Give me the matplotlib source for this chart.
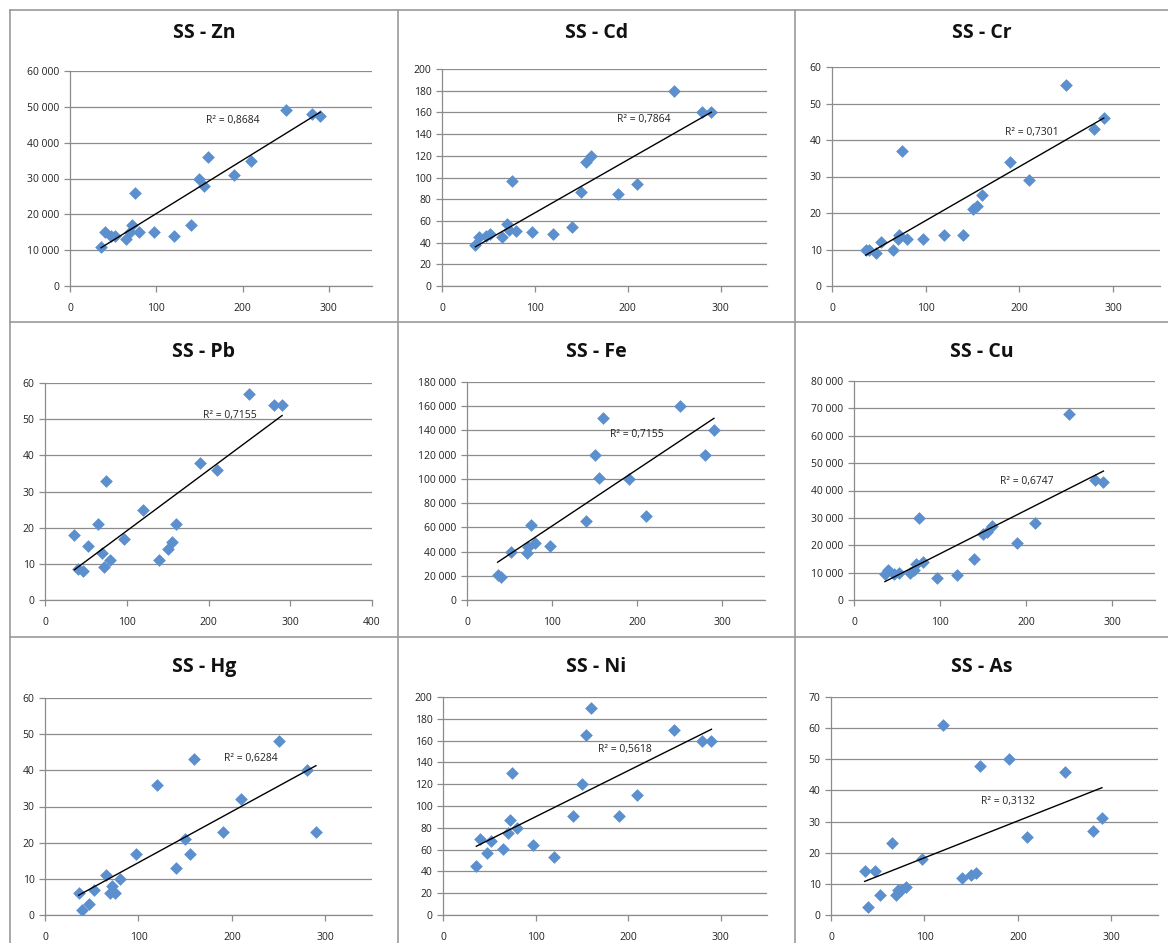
import numpy as np
import matplotlib
matplotlib.use('Agg')
import matplotlib.pyplot as plt
from matplotlib.ticker import FuncFormatter, MultipleLocator
from matplotlib.lines import Line2D

plt.rcParams['font.family'] = ['Open Sans', 'DejaVu Sans']

# SS values (shared x for all panels)
ss = [36, 40, 47, 52, 65, 70, 72, 75, 80, 97, 120, 140, 150, 155, 160, 190, 210, 250, 280, 290]

nan = np.nan
zn = [11000, 15000, 14000, 14000, 13000, 15000, 17000, 26000, 15000, 15000,
      14000, 17000, 30000, 28000, 36000, 31000, 35000, 49000, 48000, 47500]
cd = [38, 45, 46, 48, 45, 57, 52, 97, 51, 50, 48, 54, 87, 114, 120, 85, 94, 180, 160, 160]
cr = [10, 10, 9, 12, 10, 13, 14, 37, 13, 13, 14, 14, 21, 22, 25, 34, 29, 55, 43, 46]
pb = [18, 8.5, 8, 15, 21, 13, 9, 33, 11, 17, 25, 11, 14, 16, 21, 38, 36, 57, 54, 54]
fe = [21000, 19000, nan, 40000, nan, 39000, 44000, 62000, 47000, 45000,
      nan, 65000, 120000, 101000, 150000, 100000, 69000, 160000, 120000, 140000]
cu = [9500, 11000, 9500, 10000, 10000, 11000, 13000, 30000, 14000, 8000,
      9000, 15000, 24000, 25000, 27000, 21000, 28000, 68000, 44000, 43000]
hg = [6, 1.5, 3, 7, 11, 6, 8, 6, 10, 17, 36, 13, 21, 17, 43, 23, 32, 48, 40, 23]
ni = [45, 70, 57, 68, 61, 75, 87, 130, 80, 64, 53, 91, 120, 165, 190, 91, 110, 170, 160, 160]
as_ = [14, 2.5, 14, 6.5, 23, 6.5, 8, 8, 9, 18, 61, 12, 13, 13.5, 48, 50, 25, 46, 27, 31]

titles = ['SS - Zn', 'SS - Cd', 'SS - Cr', 'SS - Pb', 'SS - Fe', 'SS - Cu', 'SS - Hg', 'SS - Ni', 'SS - As']
series = [zn, cd, cr, pb, fe, cu, hg, ni, as_]
r2 = ['0,8684', '0,7864', '0,7301', '0,7155', '0,7155', '0,6747', '0,6284', '0,5618', '0,3132']
ymax = [60000, 200, 60, 60, 180000, 80000, 60, 200, 70]
ystep = [10000, 20, 10, 10, 20000, 10000, 10, 20, 10]
xmax = [350, 350, 350, 400, 350, 350, 350, 350, 350]

W, H = 1168, 943
# plot area boxes in pixels: left, right, top, bottom
boxes = [(70, 372, 71, 286), (442, 767, 69, 286), (832, 1160, 67, 286),
         (45, 372, 383, 600), (467, 765, 382, 600), (854, 1155, 381, 600),
         (45, 372, 698, 915), (443, 767, 697, 915), (831, 1158, 697, 915)]
r2pos = [(0.54, 0.77), (0.62, 0.765), (0.61, 0.70), (0.566, 0.85), (0.57, 0.757),
         (0.575, 0.54), (0.63, 0.72), (0.56, 0.757), (0.54, 0.52)]
cells_x = [10, 398, 795, 1168]
cells_y = [10, 322, 637, 943]
title_y = [33, 352, 667]

blue = '#5B8FCD'
grey = '#8C8C8C'

fig = plt.figure(figsize=(W/100., H/100.), dpi=100)

def spaced(v, pos):
    return '{:,}'.format(int(v)).replace(',', ' ')

x = np.array(ss, dtype=float)
for i in range(9):
    l, r, t, b = boxes[i]
    ax = fig.add_axes([l/W, 1-b/H, (r-l)/W, (b-t)/H])
    y = np.array(series[i], dtype=float)
    ok = ~np.isnan(y)
    ax.scatter(x[ok], y[ok], marker='D', s=42, color=blue, zorder=3, linewidths=0)
    k, m = np.polyfit(x[ok], y[ok], 1)
    xx = np.array([x[ok].min(), x[ok].max()])
    ax.plot(xx, k*xx+m, color='k', lw=1, zorder=4)
    ax.text(r2pos[i][0], r2pos[i][1], 'R² = ' + r2[i], transform=ax.transAxes,
            ha='center', va='center', fontsize=7.5, color='#222222', zorder=5)
    ax.set_xlim(0, xmax[i])
    ax.set_ylim(0, ymax[i])
    ax.xaxis.set_major_locator(MultipleLocator(100))
    ax.yaxis.set_major_locator(MultipleLocator(ystep[i]))
    if ymax[i] >= 10000:
        ax.yaxis.set_major_formatter(FuncFormatter(spaced))
    ax.grid(axis='y', color=grey, lw=0.9, zorder=0)
    for s in ['top', 'right']:
        ax.spines[s].set_visible(False)
    for s in ['left', 'bottom']:
        ax.spines[s].set_color(grey)
        ax.spines[s].set_linewidth(0.9)
    ax.tick_params(axis='both', colors=grey, labelcolor='#222222', labelsize=7.5,
                   length=4, width=0.9, direction='out')
    ax.tick_params(axis='x', pad=8)
    ax.set_facecolor('none')
    ax.set_axisbelow(True)

    row, col = i // 3, i % 3
    cx = (cells_x[col] + cells_x[col+1]) / 2.
    fig.text(cx/W, 1-title_y[row]/H, titles[i], ha='center', va='center',
             fontsize=14, fontweight='bold', color='#111111')

# cell borders
for xv in cells_x[:-1]:
    fig.add_artist(Line2D([xv/W, xv/W], [0, 1-10/H], color='#9A9A9A', lw=1.2))
for yv in cells_y[:-1]:
    fig.add_artist(Line2D([10/W, 1], [1-yv/H, 1-yv/H], color='#9A9A9A', lw=1.2))

plt.savefig('out.png', dpi=100)
